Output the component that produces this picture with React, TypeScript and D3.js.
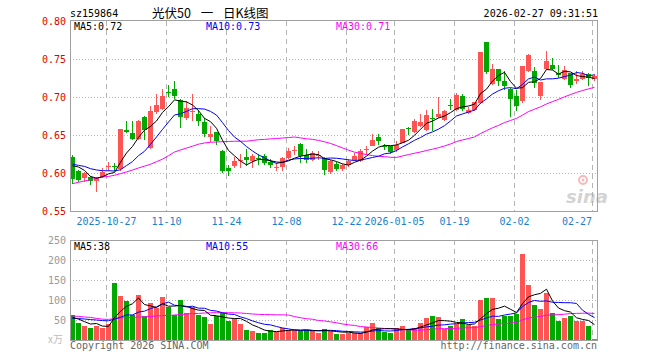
import React from "react";
import * as d3 from "d3";

const W = 660;
const H = 360;

// ---- data ----
const openP = [0.6205,0.603,0.5929,0.5942,0.5889,0.5951,0.6088,0.6095,0.6057,0.657,0.653,0.6445,0.674,0.6333,0.6807,0.6846,0.7065,0.711,0.6964,0.6724,0.680,0.6776,0.6675,0.6478,0.6535,0.6284,0.606,0.609,0.6155,0.6205,0.6153,0.620,0.6228,0.6145,0.6075,0.6074,0.6197,0.6284,0.6386,0.6241,0.6166,0.6236,0.6197,0.6008,0.6118,0.6054,0.6109,0.6175,0.6158,0.631,0.635,0.6468,0.636,0.635,0.6297,0.6395,0.6595,0.654,0.6622,0.657,0.673,0.6737,0.670,0.6893,0.6824,0.7017,0.679,0.6833,0.692,0.7718,0.7175,0.7368,0.7205,0.7105,0.7017,0.6945,0.7337,0.7337,0.7017,0.7372,0.7425,0.7316,0.724,0.7316,0.7214,0.7241,0.7303,0.7241];
const highP = [0.624,0.6035,0.6008,0.5955,0.5951,0.6066,0.6149,0.613,0.658,0.6688,0.668,0.670,0.675,0.688,0.7043,0.711,0.716,0.7205,0.697,0.6951,0.7043,0.6833,0.6724,0.6622,0.654,0.630,0.611,0.6214,0.625,0.6316,0.625,0.6245,0.625,0.6184,0.6132,0.6205,0.6329,0.635,0.640,0.6316,0.6284,0.6284,0.621,0.617,0.6149,0.612,0.619,0.626,0.631,0.635,0.6513,0.6513,0.6385,0.635,0.6416,0.658,0.661,0.671,0.678,0.6833,0.6842,0.700,0.683,0.6974,0.7053,0.7043,0.687,0.6935,0.7595,0.772,0.7434,0.737,0.7337,0.712,0.7096,0.741,0.757,0.740,0.72,0.760,0.7513,0.7416,0.7412,0.732,0.7337,0.7337,0.731,0.7303];
const lowP = [0.5855,0.5885,0.5882,0.5846,0.5745,0.5929,0.603,0.603,0.603,0.6526,0.643,0.6438,0.644,0.632,0.678,0.6824,0.700,0.6974,0.6587,0.670,0.669,0.662,0.648,0.6412,0.637,0.5995,0.5955,0.6066,0.607,0.6087,0.6066,0.6105,0.611,0.6066,0.6021,0.6021,0.619,0.624,0.6132,0.6132,0.616,0.6175,0.5978,0.599,0.603,0.603,0.6075,0.616,0.615,0.624,0.635,0.6363,0.6307,0.625,0.628,0.6395,0.6495,0.652,0.660,0.655,0.6557,0.672,0.669,0.6833,0.6811,0.6811,0.678,0.682,0.691,0.7305,0.716,0.714,0.7096,0.6732,0.681,0.692,0.733,0.7118,0.6964,0.736,0.735,0.725,0.7218,0.7118,0.7175,0.7228,0.7149,0.7214];
const closeP = [0.592,0.5907,0.5995,0.5899,0.5938,0.6017,0.6095,0.6085,0.6574,0.6543,0.645,0.6688,0.6563,0.682,0.690,0.7017,0.706,0.7017,0.6732,0.6855,0.681,0.669,0.6508,0.6517,0.6418,0.6021,0.6023,0.6153,0.617,0.6166,0.6228,0.618,0.6132,0.610,0.6082,0.6201,0.6284,0.6307,0.6228,0.6166,0.6263,0.6243,0.6043,0.6153,0.6053,0.6109,0.616,0.6228,0.6294,0.632,0.6438,0.6416,0.635,0.6271,0.6372,0.6579,0.658,0.668,0.6666,0.6767,0.6724,0.678,0.681,0.689,0.703,0.6842,0.6834,0.6929,0.7587,0.7324,0.7368,0.7205,0.714,0.6978,0.6886,0.7403,0.7557,0.718,0.7192,0.7478,0.7368,0.7293,0.7359,0.7153,0.7237,0.7303,0.725,0.728];
const volume = [62.5,42.5,35,30,36,30,40,142.5,110,98,62.5,112.5,60,93,79,107.5,83,62.5,100,66.7,81.7,62.5,58.3,40,60.8,66.7,48.3,52.5,40,25,22.5,18.3,18.3,25,20.8,30.8,25,25,23.3,25,22.5,18.3,27.5,22.5,15,15,18.3,16.7,16.7,31.7,42.5,29,20.8,18.3,29,35,26.7,29,42.5,55,60,56.7,27.5,35.8,40,52.5,37.5,35,100,105,105,52.5,60.8,60.8,65,215,137.5,87.5,77.5,118,68,48.3,55,60,47,47,35,2.5];

// moving-average values before a full window exists
const ma5Head = [0.6096,0.6079,0.6034,0.5955];
const ma10Head = [0.6118,0.610,0.6087,0.6057,0.604,0.603,0.603,0.6026,0.6043];
const ma30Head = [0.586,0.5878,0.5895,0.5912,0.5932,0.5947,0.5955,0.597,0.5991,0.6014,0.6039,0.6066,0.609,0.6115,0.6149,0.6182,0.6228,0.6276,0.6303,0.6328,0.6353,0.6379,0.6395,0.6404,0.6408,0.6412,0.6415,0.6418,0.6418];
const vma5Head = [56.7,52.5,45.8,40];
const vma10Head = [54,53.5,52.5,51,50,48.5,48,52,57];
const vma30Head = [60,59,57.5,56.5,54,52,51.5,53.5,55.5,56,56.5,57.5,58,59,60,61,61.5,62.5,63.5,65,66,66.5,67.5,68,68.3,68.3,68.3,68,67.5];

const tickIdx = [6,16,26,36,46,54,64,74,87];
const tickLabels = ["2025-10-27","11-10","11-24","12-08","12-22","2026-01-05","01-19","02-02","02-27"];
const priceTicks = [0.80,0.75,0.70,0.65,0.60,0.55];
const volTicks = [250,200,150,100,50];

const code = "sz159864";
const title = "光伏50 一 日K线图";
const stamp = "2026-02-27 09:31:51";

function movingAvg(vals: number[], n: number, head: number[]) {
  return vals.map((_, i) => {
    if (i < head.length) return head[i];
    let s = 0;
    for (let k = i - n + 1; k <= i; k++) s += vals[k];
    return s / n;
  });
}

const RED = "#ff5454";
const GREEN = "#00a800";
const GRID = "#b4b4b4";
const FRAME = "#a0a0a0";
const MONO = "'DejaVu Sans Mono', 'Liberation Mono', monospace";

export default function App() {
  const n = closeP.length;
  const L = 70, R = 598;
  const x = d3.scaleLinear().domain([0, 88]).range([L, R]);
  const y = d3.scaleLinear().domain([0.55, 0.80]).range([211, 21]);
  const yv = d3.scaleLinear().domain([0, 250]).range([340, 240]);
  const cx = (i: number) => x(i) + 2.5;

  const ma5 = movingAvg(closeP, 5, ma5Head);
  const ma10 = movingAvg(closeP, 10, ma10Head);
  const ma30 = movingAvg(closeP, 30, ma30Head);
  const vma5 = movingAvg(volume, 5, vma5Head);
  const vma10 = movingAvg(volume, 10, vma10Head);
  const vma30 = movingAvg(volume, 30, vma30Head);

  const pLine = d3.line<number>().x((_, i) => cx(i)).y((d) => y(d));
  const vLine = d3.line<number>().x((_, i) => cx(i)).y((d) => yv(d));

  const up = (i: number) => closeP[i] >= openP[i];

  return (
    <svg
      width={W}
      height={H}
      style={{ position: "fixed", left: 0, top: 0, background: "#fff" }}
      fontFamily={MONO}
    >
      <rect x={0} y={0} width={W} height={H} fill="#fff" />
      {/* header */}
      <text x={70} y={17} fontSize={10} fill="#000">{code}</text>
      <text x={152} y={17.5} fontSize={12.5} fill="#000" wordSpacing={7} fontFamily="'Noto Sans CJK SC', sans-serif">{title}</text>
      <text x={598} y={17} fontSize={10} fill="#000" textAnchor="end">{stamp}</text>

      {/* main grid */}
      <g shapeRendering="crispEdges">
        {priceTicks.slice(1, -1).map((t) => (
          <line key={t} x1={L} x2={R} y1={Math.round(y(t)) + 0.5} y2={Math.round(y(t)) + 0.5} stroke={GRID} strokeDasharray="1,2" />
        ))}
        {tickIdx.map((ti) => (
          <line key={"v" + ti} x1={x(ti) + 0.5} x2={x(ti) + 0.5} y1={21} y2={211} stroke={GRID} strokeDasharray="5,4" />
        ))}
        {volTicks.slice(1).map((t) => (
          <line key={"vg" + t} x1={L} x2={R} y1={yv(t) + 0.5} y2={yv(t) + 0.5} stroke={GRID} strokeDasharray="1,2" />
        ))}
        {tickIdx.map((ti) => (
          <line key={"vv" + ti} x1={x(ti) + 0.5} x2={x(ti) + 0.5} y1={240} y2={340} stroke={GRID} strokeDasharray="5,4" />
        ))}
      </g>

      {/* sina watermark */}
      <g opacity={0.55}>
        <circle cx={583} cy={180} r={4} fill="none" stroke="#f08080" strokeWidth={2} />
        <circle cx={583} cy={180} r={1.5} fill="#f08080" />
        <text x={566} y={203} fontSize={18} fontStyle="italic" fontWeight="bold" fill="#b0b0b0" fontFamily="'DejaVu Sans', sans-serif">sina</text>
      </g>

      {/* candles */}
      <g shapeRendering="crispEdges">
        {closeP.map((c, i) => {
          const col = up(i) ? RED : GREEN;
          const top = Math.round(y(Math.max(openP[i], c)));
          const bot = Math.round(y(Math.min(openP[i], c)));
          return (
            <g key={i}>
              <line x1={cx(i)} x2={cx(i)} y1={Math.round(y(highP[i]))} y2={Math.round(y(lowP[i]))} stroke={col} />
              <rect x={x(i)} y={top} width={5} height={Math.max(1, bot - top)} fill={col} />
            </g>
          );
        })}
      </g>

      {/* price MAs */}
      <path d={pLine(ma30) || ""} fill="none" stroke="#ff00ff" strokeWidth={1} />
      <path d={pLine(ma10) || ""} fill="none" stroke="#0000ff" strokeWidth={1} />
      <path d={pLine(ma5) || ""} fill="none" stroke="#000" strokeWidth={1} />

      {/* volume bars */}
      <g shapeRendering="crispEdges">
        {volume.map((v, i) => (
          <rect key={i} x={x(i)} y={Math.round(yv(v))} width={5} height={340 - Math.round(yv(v))} fill={up(i) ? RED : GREEN} />
        ))}
      </g>
      <path d={vLine(vma30) || ""} fill="none" stroke="#ff00ff" strokeWidth={1} />
      <path d={vLine(vma10) || ""} fill="none" stroke="#0000ff" strokeWidth={1} />
      <path d={vLine(vma5) || ""} fill="none" stroke="#000" strokeWidth={1} />

      {/* frames */}
      <g shapeRendering="crispEdges" fill="none" stroke={FRAME}>
        <rect x={70.5} y={20.5} width={527} height={191} />
        <rect x={70.5} y={240.5} width={527} height={100} />
      </g>

      {/* price axis labels */}
      {priceTicks.map((t) => (
        <text key={t} x={66} y={y(t) + 3.5} fontSize={10} fill="#e00000" textAnchor="end">{t.toFixed(2)}</text>
      ))}
      {/* date labels */}
      {tickIdx.map((ti, k) => (
        <text key={ti} x={k === tickIdx.length - 1 ? x(ti) : x(ti) + 0.5} y={225} fontSize={10} fill="#1a7fd0" textAnchor={k === tickIdx.length - 1 ? "end" : "middle"}>{tickLabels[k]}</text>
      ))}
      {/* volume axis labels */}
      {volTicks.map((t) => (
        <text key={t} x={66} y={yv(t) + 3.5} fontSize={10} fill="#999" textAnchor="end">{t}</text>
      ))}
      <text x={63} y={343} fontSize={10} fill="#bbb" textAnchor="end" fontFamily="'Noto Sans CJK SC', sans-serif">x万</text>

      {/* MA legends */}
      <text x={74} y={30} fontSize={10} fill="#000">MA5:{ma5[n - 1].toFixed(2)}</text>
      <text x={206} y={30} fontSize={10} fill="#0000ff">MA10:{ma10[n - 1].toFixed(2)}</text>
      <text x={336} y={30} fontSize={10} fill="#ff00ff">MA30:{ma30[n - 1].toFixed(2)}</text>
      <text x={74} y={249.5} fontSize={10} fill="#000">MA5:{Math.floor(vma5[n - 1])}</text>
      <text x={206} y={249.5} fontSize={10} fill="#0000ff">MA10:{Math.floor(vma10[n - 1])}</text>
      <text x={336} y={249.5} fontSize={10} fill="#ff00ff">MA30:{Math.floor(vma30[n - 1])}</text>

      {/* footer */}
      <text x={70} y={349} fontSize={10} fill="#666">Copyright 2026 SINA.COM</text>
      <text x={597} y={349} fontSize={10} fill="#666" textAnchor="end">http://finance.sina.com.cn</text>
    </svg>
  );
}
